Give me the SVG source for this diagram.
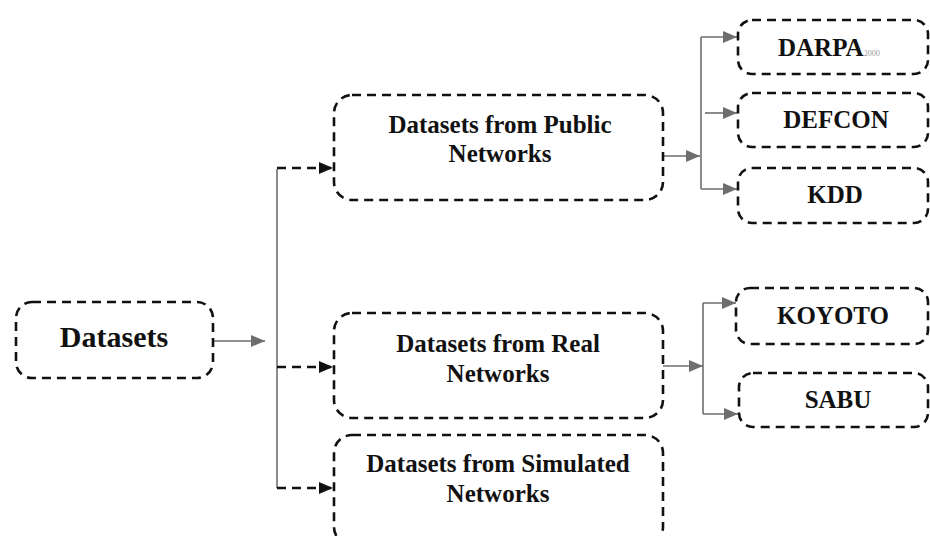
<svg xmlns="http://www.w3.org/2000/svg" width="930" height="536" viewBox="0 0 930 536">
<style>
.box{fill:#fff;stroke:#111;stroke-width:2.6;stroke-dasharray:9 6}
.t{font-family:'Liberation Serif','Times New Roman',serif;font-weight:bold;fill:#111;text-anchor:middle;font-size:25px}
.g{fill:none;stroke:#6e6e6e;stroke-width:1.6}
.d{fill:none;stroke:#111;stroke-width:2.6;stroke-dasharray:9 6}
</style>
<defs>
<marker id="ag" viewBox="0 0 14 12" refX="14" refY="6" markerWidth="14" markerHeight="12" markerUnits="userSpaceOnUse" orient="auto"><path d="M0,0 L14,6 L0,12 z" fill="#6e6e6e"/></marker>
<marker id="ab" viewBox="0 0 14 12" refX="14" refY="6" markerWidth="14" markerHeight="12" markerUnits="userSpaceOnUse" orient="auto"><path d="M0,0 L14,6 L0,12 z" fill="#111"/></marker>
</defs>
<rect width="930" height="536" fill="#fff"/>
<g id="connectors">
<path class="g" d="M213,341 H265" marker-end="url(#ag)"/>
<path class="g" d="M277,169 V488"/>
<path class="d" d="M277,168 H333" marker-end="url(#ab)"/>
<path class="d" d="M277,367 H333" marker-end="url(#ab)"/>
<path class="d" d="M277,488 H333" marker-end="url(#ab)"/>
<path class="g" d="M663,156 H700" marker-end="url(#ag)"/>
<path class="g" d="M701,37 V189"/>
<path class="g" d="M701,37 H737" marker-end="url(#ag)"/>
<path class="g" d="M701,189 H737" marker-end="url(#ag)"/>
<path class="g" d="M705,113 H737" marker-end="url(#ag)"/>
<path class="g" d="M663,366 H703" marker-end="url(#ag)"/>
<path class="g" d="M703,303 V414"/>
<path class="g" d="M703,303 H736" marker-end="url(#ag)"/>
<path class="g" d="M703,414 H738" marker-end="url(#ag)"/>
</g>
<g id="datasets"><rect class="box" x="16" y="302" width="197" height="76" rx="16"/><text class="t" x="114" y="347" style="font-size:30px">Datasets</text></g>
<g id="public"><rect class="box" x="334" y="95" width="329" height="105" rx="18"/><text class="t" x="500" y="133">Datasets from Public</text><text class="t" x="500" y="162">Networks</text></g>
<g id="real"><rect class="box" x="334" y="313" width="329" height="105" rx="18"/><text class="t" x="498" y="352">Datasets from Real</text><text class="t" x="498" y="382">Networks</text></g>
<g id="simulated"><rect class="box" x="334" y="435" width="329" height="110" rx="18"/><text class="t" x="498" y="472">Datasets from Simulated</text><text class="t" x="498" y="502">Networks</text></g>
<g id="darpa"><rect class="box" x="738" y="20" width="190" height="54" rx="14"/><text class="t" x="778" y="56" style="text-anchor:start">DARPA<tspan style="font-size:8px;font-weight:normal;fill:#999">2000</tspan></text></g>
<g id="defcon"><rect class="box" x="738" y="93" width="190" height="54" rx="14"/><text class="t" x="836" y="128">DEFCON</text></g>
<g id="kdd"><rect class="box" x="738" y="168" width="190" height="55" rx="14"/><text class="t" x="835" y="203">KDD</text></g>
<g id="koyoto"><rect class="box" x="736" y="288" width="192" height="56" rx="14"/><text class="t" x="833" y="324">KOYOTO</text></g>
<g id="sabu"><rect class="box" x="739" y="373" width="189" height="54" rx="14"/><text class="t" x="838" y="408">SABU</text></g>
</svg>
